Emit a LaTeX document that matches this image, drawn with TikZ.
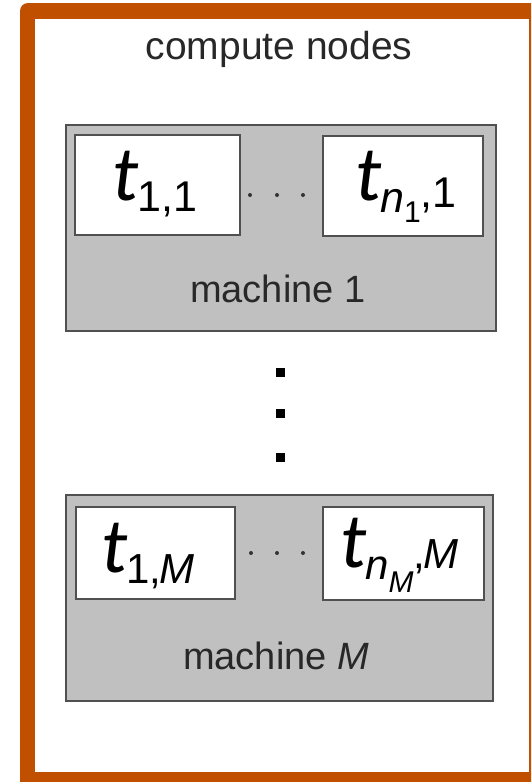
\documentclass[tikz,border=0pt]{standalone}
\usepackage{fontspec}
\setmainfont{Liberation Sans}
\newfontfamily\carl{Carlito}
\newcommand\fsz[1]{\fontsize{#1}{#1}\selectfont}
\newcommand\tv{{\carl\itshape\fsz{78}t}}
\definecolor{framec}{RGB}{192,79,0}
\definecolor{boxgray}{RGB}{192,192,192}
\definecolor{edgec}{RGB}{80,80,80}
\definecolor{txt}{RGB}{40,40,40}
\begin{document}
\begin{tikzpicture}[x=1pt,y=-1pt,
  machine/.style={draw=edgec, fill=boxgray, line width=2.2pt, inner sep=0pt},
  task/.style={draw=edgec, fill=white, line width=1.8pt, inner sep=0pt},
  lab/.style={anchor=base west, inner sep=0pt, text=black},
  mlab/.style={anchor=base west, inner sep=0pt, text=txt, font=\fsz{38}}]
\useasboundingbox (0,0) rectangle (531,782);
\begin{scope}
\clip (0,0) rectangle (531,782);
\fill[framec, rounded corners=8pt] (20,3) rectangle (560,810);
\end{scope}
\fill[white] (35,19) rectangle (529,772);
\node[anchor=base, inner sep=0pt, text=txt, font=\fsz{39}] (title) at (279,59) {compute nodes};
% machine 1
\node[machine, minimum width=430pt, minimum height=206pt] (m1) at (281,228) {};
\node[task, minimum width=165pt, minimum height=100pt] (b11) at (157.5,185) {};
\node[task, minimum width=160pt, minimum height=100pt] (bn1) at (403,186) {};
\node[lab] (l11) at (112,200) {\tv\kern-1pt\raisebox{-11pt}{\fsz{43}1,1}};
\node[lab] (ln1) at (355,200) {\tv\kern-1pt\raisebox{-12pt}{\fsz{43}\itshape n}\raisebox{-22pt}{\fsz{30}1}\raisebox{-7pt}{\fsz{43},1}};
\node[mlab] (ml1) at (190,302) {machine 1};
\foreach \x in {250,277,303} \fill[black!80] (\x,195) circle (2pt);
% vertical dots
\foreach \y in {372,413,457} \fill[black] (275.5,\y-4.5) rectangle (284.5,\y+4.5);
% machine M
\node[machine, minimum width=427pt, minimum height=206pt] (mM) at (279.5,598) {};
\node[task, minimum width=159pt, minimum height=92pt] (b1M) at (155.5,553) {};
\node[task, minimum width=161pt, minimum height=93pt] (bnM) at (403.5,553.5) {};
\node[lab] (l1M) at (101,572) {\tv\kern-1pt\raisebox{-11pt}{\fsz{42}1,\kern-2pt\textit{M}}};
\node[lab] (lnM) at (340,567) {\tv\kern-1pt\raisebox{-12pt}{\fsz{42}\itshape n}\raisebox{-25pt}{\fsz{30}\itshape M}\raisebox{-1pt}{\fsz{42},\kern-2pt\textit{M}}};
\node[mlab] (mlM) at (183,669) {machine \textit{M}};
\foreach \x in {251,277,303} \fill[black!80] (\x,553) circle (2pt);
\end{tikzpicture}
\end{document}
